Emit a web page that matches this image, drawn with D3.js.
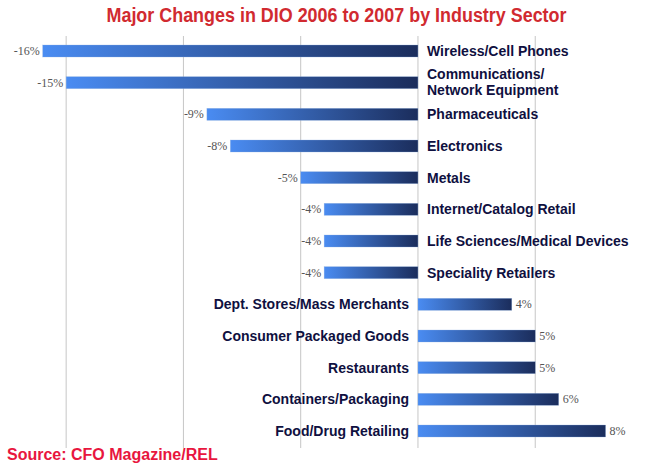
<!DOCTYPE html>
<html><head><meta charset="utf-8">
<script src="https://cdn.jsdelivr.net/npm/d3@7"></script>
<style>body{margin:0;background:#fff;}svg{display:block;}</style>
</head><body>
<script>
const categories = ["Wireless/Cell Phones","Communications/\nNetwork Equipment","Pharmaceuticals","Electronics","Metals","Internet/Catalog Retail","Life Sciences/Medical Devices","Speciality Retailers","Dept. Stores/Mass Merchants","Consumer Packaged Goods","Restaurants","Containers/Packaging","Food/Drug Retailing"];
const values = [-16,-15,-9,-8,-5,-4,-4,-4,4,5,5,6,8];
const gridTicks = [-15,-10,-5,0,5];
const titleText = "Major Changes in DIO 2006 to 2007 by Industry Sector";
const sourceText = "Source: CFO Magazine/REL";

const W = 650, H = 469;
const svg = d3.select("body").append("svg").attr("width", W).attr("height", H);

const x = d3.scaleLinear().domain([-16, 8]).range([42.7, 605.6]);
const y = d3.scalePoint().domain(d3.range(categories.length)).range([51, 431]);
const barH = 12;

const defs = svg.append("defs");
const grad = defs.append("linearGradient").attr("id","barGrad").attr("x1","0").attr("x2","1").attr("y1","0").attr("y2","0");
grad.append("stop").attr("offset","0%").attr("stop-color","#4a8cf2");
grad.append("stop").attr("offset","100%").attr("stop-color","#1b2d5c");

// gridlines
svg.append("g").selectAll("line").data(gridTicks).join("line")
  .attr("x1", d => x(d)).attr("x2", d => x(d))
  .attr("y1", 36).attr("y2", 448)
  .attr("stroke", "#c6c6c6").attr("stroke-width", 1);

// bars
svg.append("g").selectAll("rect").data(values).join("rect")
  .attr("x", d => Math.min(x(d), x(0)))
  .attr("y", (d,i) => y(i) - barH/2)
  .attr("width", d => Math.abs(x(d) - x(0)))
  .attr("height", barH)
  .attr("fill", "url(#barGrad)")
  .attr("stroke", "#8fb0e0").attr("stroke-width", 0.5).attr("stroke-opacity", 0.6);

// value labels
svg.append("g").selectAll("text").data(values).join("text")
  .attr("x", d => d < 0 ? x(d) - 3 : x(d) + 4)
  .attr("y", (d,i) => y(i) + 4)
  .attr("text-anchor", d => d < 0 ? "end" : "start")
  .attr("font-family", "'Times New Roman', 'Liberation Serif', serif")
  .attr("font-size", 12)
  .attr("fill", "#555")
  .text(d => d + "%");

// category labels
const cat = svg.append("g").selectAll("text").data(categories).join("text")
  .attr("x", (d,i) => values[i] < 0 ? 427 : 409)
  .attr("y", (d,i) => y(i) + 5)
  .attr("text-anchor", (d,i) => values[i] < 0 ? "start" : "end")
  .attr("font-family", "Arial, 'Liberation Sans', sans-serif")
  .attr("font-weight", "bold")
  .attr("font-size", 14)
  .attr("fill", "#0f1040");
cat.each(function(d,i){
  const lines = d.split("\n");
  const t = d3.select(this);
  if (lines.length === 1) { t.text(d); return; }
  t.attr("y", null);
  lines.forEach((ln, k) => {
    t.append("tspan").attr("x", 427).attr("y", y(i) - 4 + k*16).text(ln);
  });
});

// title
svg.append("text")
  .attr("x", 106.5).attr("y", 21.5)
  .attr("textLength", 460).attr("lengthAdjust", "spacingAndGlyphs")
  .attr("font-family", "Arial, 'Liberation Sans', sans-serif")
  .attr("font-weight", "bold").attr("font-size", 20)
  .attr("fill", "#d12a30")
  .text(titleText);

// source
svg.append("text")
  .attr("x", 7).attr("y", 460)
  .attr("font-family", "Arial, 'Liberation Sans', sans-serif")
  .attr("font-weight", "bold").attr("font-size", 16)
  .attr("fill", "#e8163e")
  .text(sourceText);
</script>
</body></html>
